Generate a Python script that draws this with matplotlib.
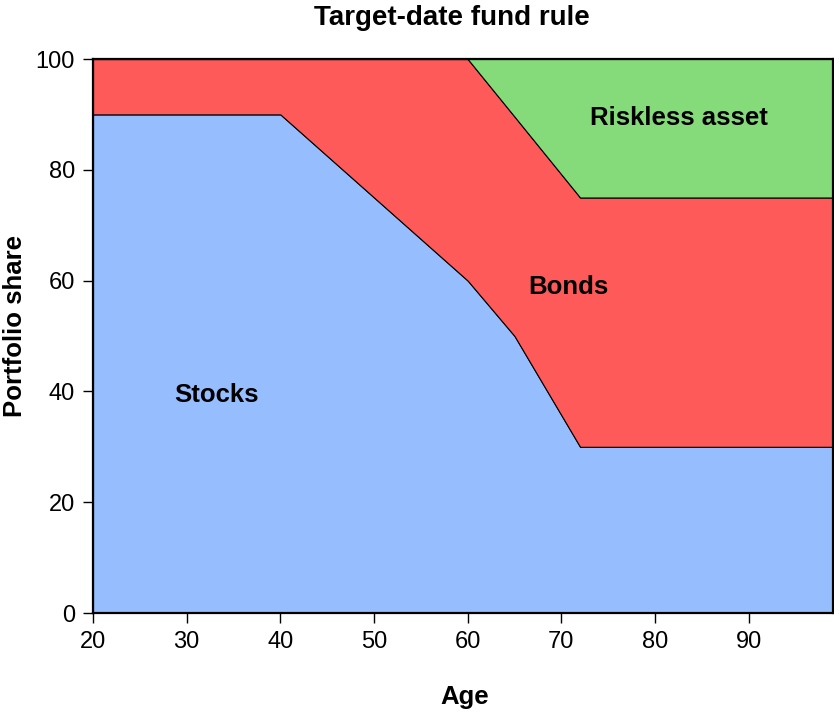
import matplotlib
matplotlib.use("Agg")
import matplotlib.pyplot as plt

# ─── data (kink points of the glide path) ─────────────────────────────────────
age      = [20, 40, 60, 65, 72, 99]
stocks   = [90, 90, 60, 50, 30, 30]
bonds    = [10, 10, 40, 39.6, 45, 45]
riskless = [0, 0, 0, 10.4, 25, 25]

colors = ["#96BEFF", "#FF5A5A", "#85DB7A"]

plt.rcParams["font.family"] = ["Liberation Sans", "DejaVu Sans"]

fig = plt.figure(figsize=(8.34, 7.2), dpi=100)
ax = fig.add_axes([93 / 834, 1 - 613 / 720, 740 / 834, 554 / 720])

ax.stackplot(age, stocks, bonds, riskless, colors=colors,
             edgecolor="black", linewidth=0.8)

ax.set_xlim(20, 99)
ax.set_ylim(0, 100)
ax.set_xticks(range(20, 100, 10))
ax.set_yticks(range(0, 101, 20))
ax.tick_params(direction="out", length=7, width=1, pad=6, labelsize=17)
for s in ax.spines.values():
    s.set_linewidth(1.6)

lab = dict(fontsize=18.5, fontweight="bold", ha="center", va="baseline")
ax.text(33.2, 38.1, "Stocks", **lab)
ax.text(70.8, 57.6, "Bonds", **lab)
ax.text(82.6, 88.1, "Riskless asset", **lab)

fig.text(452 / 834, 1 - 18 / 720, "Target-date fund rule",
         fontsize=20, fontweight="bold", ha="center", va="center")
fig.text(465 / 834, 1 - 697 / 720, "Age",
         fontsize=18.5, fontweight="bold", ha="center", va="center")
fig.text(15 / 834, 1 - 326 / 720, "Portfolio share", rotation=90,
         fontsize=18.5, fontweight="bold", ha="center", va="center")

fig.savefig("out.png", dpi=100)
